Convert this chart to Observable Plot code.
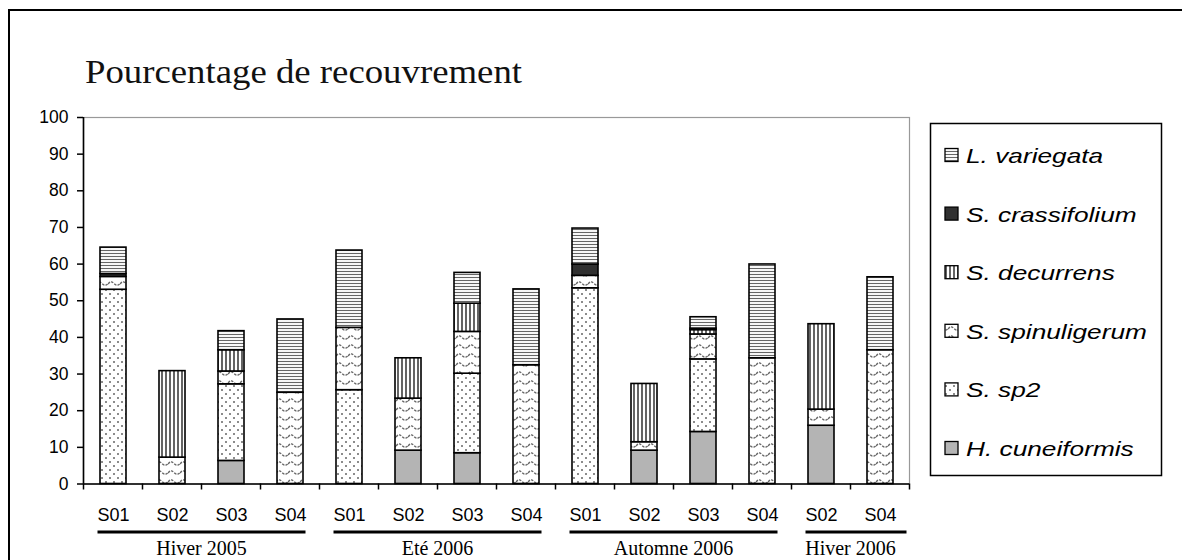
<!DOCTYPE html>
<html><head><meta charset="utf-8">
<script src="https://cdn.jsdelivr.net/npm/d3@7"></script>
<script src="https://cdn.jsdelivr.net/npm/@observablehq/plot@0.6"></script>
<style>body{margin:0;background:#fff}</style>
</head><body><div id="chart"></div>
<script>
// ---- data ----
const sites = ["S01","S02","S03","S04","S01","S02","S03","S04","S01","S02","S03","S04","S02","S04"];
const seasons = ["Hiver 2005","Hiver 2005","Hiver 2005","Hiver 2005","Eté 2006","Eté 2006","Eté 2006","Eté 2006","Automne 2006","Automne 2006","Automne 2006","Automne 2006","Hiver 2006","Hiver 2006"];
const species = ["H. cuneiformis","S. sp2","S. spinuligerum","S. decurrens","S. crassifolium","L. variegata"];
const hCuneiformis   = [0,   0,   6.3, 0,    0,   9.1, 8.4, 0,    0,   9.1, 14.2, 0,    15.9, 0];
const sSp2           = [53.0,0,   20.9,0,    25.6,0,   21.7,0,    53.4,0,   19.8, 0,    0,    0];
const sSpinuligerum  = [3.5, 7.2, 3.5, 24.9, 17.0,14.2,11.4,32.4, 3.4, 2.3, 6.8,  34.3, 4.4,  36.5];
const sDecurrens     = [0,   23.6,5.8, 0,    0,   11.0,7.7, 0,    0,   15.9,1.2,  0,    23.3, 0];
const sCrassifolium  = [0.8, 0,   0,   0,    0,   0,   0,   0,    3.1, 0,   0.4,  0,    0,    0];
const lVariegata     = [7.2, 0,   5.2, 20.0, 21.1,0,   8.4, 20.7, 9.8, 0,   3.1,  25.6, 0,    19.9];
const yTicks = [0,10,20,30,40,50,60,70,80,90,100];
const title = "Pourcentage de recouvrement";

// ---- build table ----
const seriesValues = [hCuneiformis, sSp2, sSpinuligerum, sDecurrens, sCrassifolium, lVariegata];
const keys = sites.map((s, i) => seasons[i] + "|" + s);
const data = [];
species.forEach((sp, j) => keys.forEach((k, i) => {
  const v = seriesValues[j][i];
  if (v > 0) data.push({key: k, species: sp, value: v});
}));
const fills = ["#b4b4b4", "url(#pDots)", "url(#pWave)", "url(#pVert)", "#303030", "url(#pHoriz)"];

const W = 1182, H = 560, mL = 83, mT = 117, mR = 273, mB = 76.5;
const plot = Plot.plot({
  width: W, height: H,
  marginLeft: mL, marginTop: mT, marginRight: mR, marginBottom: mB,
  style: {fontFamily: "'Liberation Sans', Arial, sans-serif", background: "white", color: "#000"},
  x: {domain: keys, paddingInner: 0.565, paddingOuter: 0.2825, label: null, axis: null},
  y: {domain: [0, 100], label: null, axis: null},
  color: {domain: species, range: fills},
  marks: [
    Plot.frame({stroke: "#999", strokeWidth: 1.2}),
    Plot.barY(data, {x: "key", y: "value", fill: "species", stroke: "#000", strokeWidth: 1.6}),
    Plot.axisY({ticks: yTicks, tickSize: 6, tickPadding: 9, fontSize: 17.5, label: null, strokeWidth: 1.5}),
    Plot.axisX({tickSize: 0, tickPadding: 24, fontSize: 18, label: null, tickFormat: d => d.split("|")[1]}),
    Plot.ruleY([0], {stroke: "#000", strokeWidth: 1.6})
  ]
});
document.getElementById("chart").appendChild(plot);

const svg = d3.select(plot);
// patterns
const defs = svg.insert("defs", ":first-child");
const ph = defs.append("pattern").attr("id", "pHoriz").attr("patternUnits", "userSpaceOnUse").attr("width", 6).attr("height", 3);
ph.append("rect").attr("width", 6).attr("height", 3).attr("fill", "#fff");
ph.append("line").attr("x1", 0).attr("x2", 6).attr("y1", 1.5).attr("y2", 1.5).attr("stroke", "#666").attr("stroke-width", 1.1);
const pv = defs.append("pattern").attr("id", "pVert").attr("patternUnits", "userSpaceOnUse").attr("width", 4).attr("height", 6);
pv.append("rect").attr("width", 4).attr("height", 6).attr("fill", "#fff");
pv.append("line").attr("x1", 2).attr("x2", 2).attr("y1", 0).attr("y2", 6).attr("stroke", "#222").attr("stroke-width", 1.4);
const pw = defs.append("pattern").attr("id", "pWave").attr("patternUnits", "userSpaceOnUse").attr("width", 12).attr("height", 9);
pw.append("rect").attr("width", 12).attr("height", 9).attr("fill", "#fff");
pw.append("path").attr("d", "M0,5 Q3,1 6,4.5 T12,4.5").attr("fill", "none").attr("stroke", "#666").attr("stroke-width", 1.3).attr("stroke-dasharray", "2.5,1.2");
const pd = defs.append("pattern").attr("id", "pDots").attr("patternUnits", "userSpaceOnUse").attr("width", 8).attr("height", 8);
pd.append("rect").attr("width", 8).attr("height", 8).attr("fill", "#fff");
pd.append("circle").attr("cx", 2).attr("cy", 2).attr("r", 1).attr("fill", "#666");
pd.append("circle").attr("cx", 6).attr("cy", 6).attr("r", 1).attr("fill", "#666");

// outer frame
svg.insert("rect", "defs + *").attr("x", 9).attr("y", 10).attr("width", 1200).attr("height", 600)
  .attr("fill", "none").attr("stroke", "#000").attr("stroke-width", 2);

const xs = plot.scale("x"), ys = plot.scale("y");
const step = xs.step, bw = xs.bandwidth, outer = (step - bw) / 2;
const y0 = ys.apply(0), y100 = ys.apply(100);
const left = xs.apply(keys[0]) - outer;
const g = svg.append("g");
// left axis line
g.append("line").attr("x1", left).attr("x2", left).attr("y1", y100).attr("y2", y0).attr("stroke", "#000").attr("stroke-width", 1.6);
// boundary ticks
for (let i = 0; i <= keys.length; i++) {
  const xx = i < keys.length ? xs.apply(keys[i]) - outer : xs.apply(keys[keys.length - 1]) + bw + outer;
  g.append("line").attr("x1", xx).attr("x2", xx).attr("y1", y0).attr("y2", y0 + 6).attr("stroke", "#000").attr("stroke-width", 1.5);
}
// season groups
const groups = [...new Set(seasons)];
groups.forEach((sn, gi) => {
  const ks = keys.filter((k, i) => seasons[i] === sn);
  const a = xs.apply(ks[0]) - outer, b = xs.apply(ks[ks.length - 1]) + bw + outer;
  const inR = gi === groups.length - 1 ? 3 : 14;
  g.append("line").attr("x1", a + 14).attr("x2", b - inR).attr("y1", y0 + 48.5).attr("y2", y0 + 48.5)
    .attr("stroke", "#000").attr("stroke-width", 3);
  g.append("text").attr("x", (a + b) / 2).attr("y", y0 + 71.5).attr("text-anchor", "middle")
    .attr("font-family", "'Liberation Serif', 'Times New Roman', serif").attr("font-size", 20).attr("fill", "#000").text(sn);
});
// title
svg.append("text").attr("x", 85).attr("y", 83).attr("text-anchor", "start")
  .attr("font-family", "'Liberation Serif', 'Times New Roman', serif")
  .attr("font-size", 33).attr("fill", "#111")
  .attr("textLength", 437).attr("lengthAdjust", "spacingAndGlyphs").text(title);
// legend
const lg = svg.append("g").attr("text-anchor", "start");
lg.append("rect").attr("x", 930.5).attr("y", 123.5).attr("width", 231).attr("height", 352)
  .attr("fill", "#fff").attr("stroke", "#000").attr("stroke-width", 1.5);
const order = species.slice().reverse();
order.forEach((sp, i) => {
  const cy = 155 + i * 58.6;
  lg.append("rect").attr("x", 945).attr("y", cy - 6.5).attr("width", 13).attr("height", 13)
    .attr("fill", fills[species.indexOf(sp)]).attr("stroke", "#000").attr("stroke-width", 1.3);
  lg.append("text").attr("transform", `translate(966,${cy + 8}) scale(1.25,1)`)
    .attr("text-anchor", "start").attr("font-size", 21).attr("font-style", "italic")
    .attr("fill", "#000").text(sp);
});
</script></body></html>
